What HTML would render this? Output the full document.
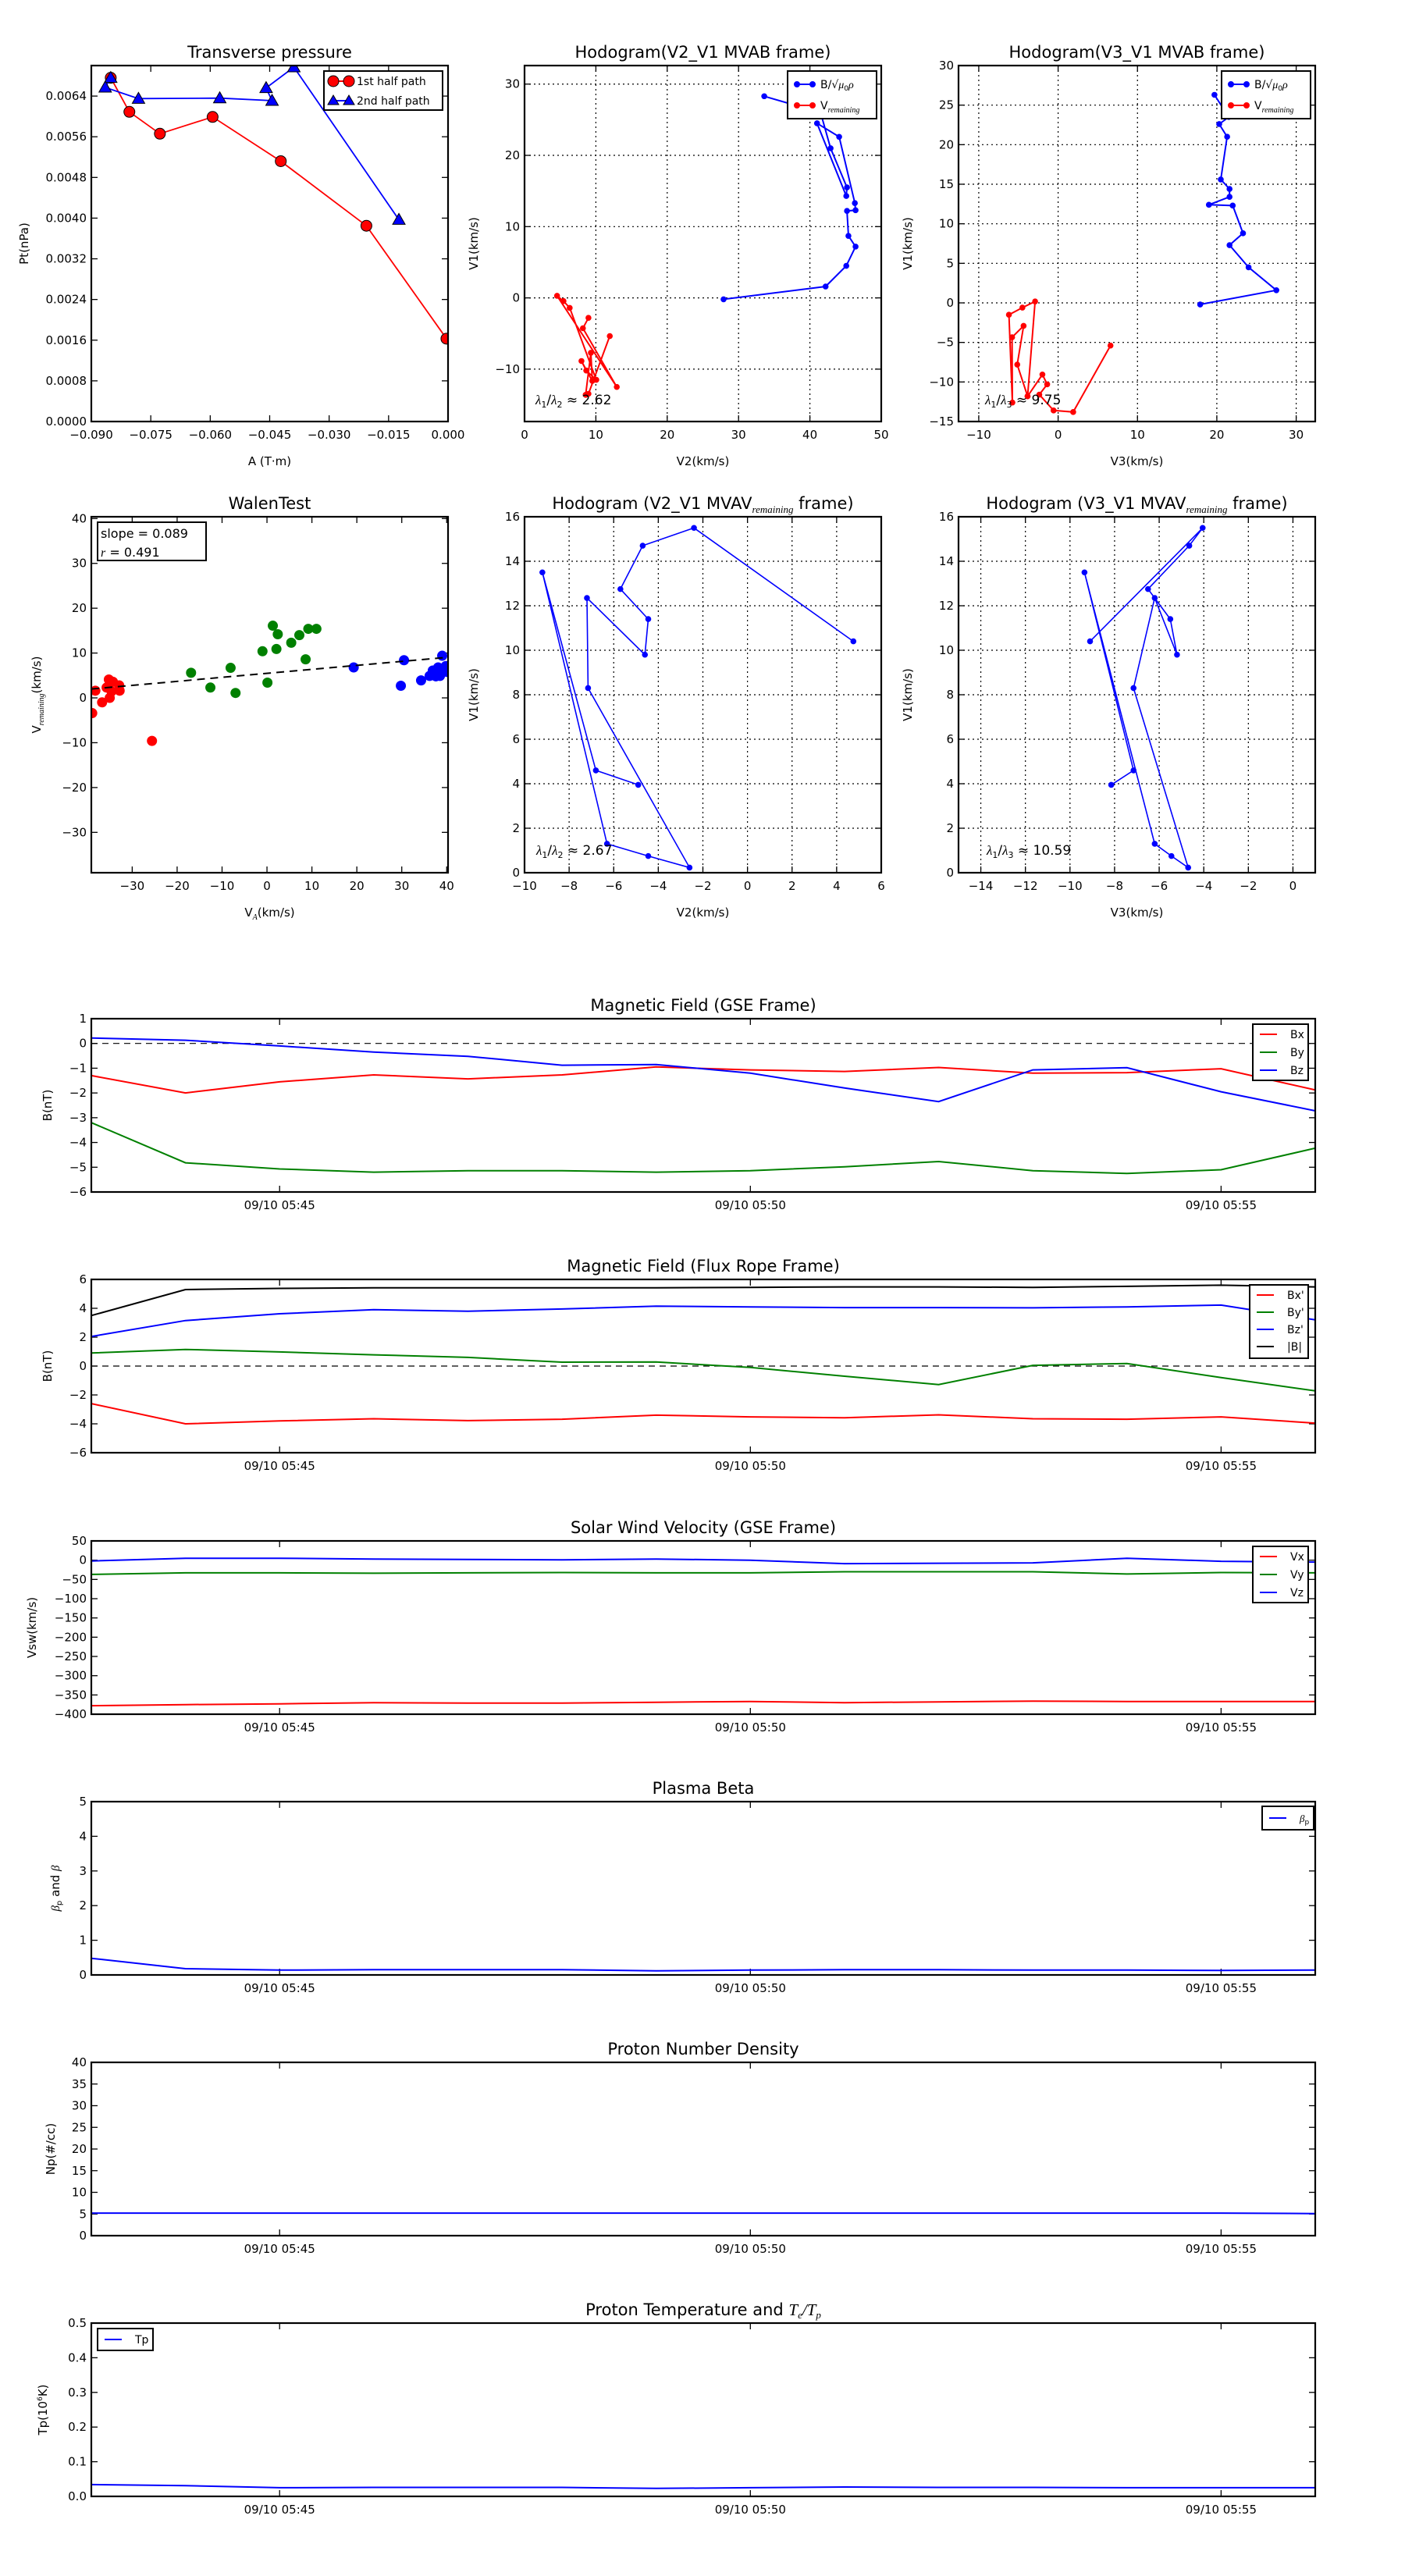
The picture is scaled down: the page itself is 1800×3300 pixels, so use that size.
<!DOCTYPE html>
<html><head><meta charset="utf-8"><title>Flux rope analysis</title>
<style>
html,body{margin:0;padding:0;background:#fff;}
svg{display:block;font-family:"DejaVu Sans","Liberation Sans",sans-serif;}
</style></head>
<body>
<svg id="fig" width="1800" height="3300" viewBox="0 0 1800 3300" xmlns="http://www.w3.org/2000/svg">
<rect width="1800" height="3300" fill="#fff"/>
</svg>
<script>
// ---------- DATA ----------
const tpRedA = [-0.0851,-0.0804,-0.0727,-0.0594,-0.0422,-0.0206,-0.0004];
const tpRedP = [0.00676,0.00609,0.00566,0.00599,0.00512,0.00385,0.00163];
const tpBlueA = [-0.0851,-0.0865,-0.0781,-0.0576,-0.0444,-0.0459,-0.0389,-0.0124];
const tpBlueP = [0.00676,0.00657,0.00635,0.00636,0.00631,0.00656,0.00697,0.00397];

const h2BlueX = [27.9,42.2,45.1,46.4,45.4,45.2,46.4,46.3,44.1,41.0,45.1,45.2,42.9,41.5,33.6];
const h2BlueY = [-0.2,1.6,4.5,7.2,8.7,12.2,12.3,13.3,22.6,24.5,14.3,15.5,21.0,26.0,28.3];
const h2RedX = [8.96,8.18,12.93,4.56,5.46,6.33,10.06,8.65,7.98,9.5,9.3,8.57,8.96,11.95];
const h2RedY = [-2.8,-4.26,-12.5,0.29,-0.45,-1.4,-11.5,-10.2,-8.86,-11.65,-7.7,-13.6,-13.46,-5.36];

const h3BlueX = [17.9,27.5,24.0,21.6,23.3,22.0,19.0,21.6,21.6,20.5,21.3,20.3,21.5,19.7];
const h3BlueY = [-0.2,1.6,4.5,7.3,8.8,12.3,12.4,13.4,14.4,15.6,21.0,22.6,23.5,26.3];
const h3RedX = [6.6,1.9,-0.57,-2.37,-1.38,-1.98,-3.85,-5.15,-4.35,-5.8,-5.76,-6.2,-4.5,-2.9,-3.85];
const h3RedY = [-5.4,-13.8,-13.6,-11.6,-10.3,-9.06,-11.8,-7.8,-2.9,-4.35,-12.6,-1.5,-0.6,0.18,-11.8];

const walenRedX = [-38.9,-38.2,-36.7,-35.7,-35.2,-35.0,-34.3,-32.9,-32.8,-34.6,-25.6];
const walenRedY = [-3.4,1.6,-1.0,2.3,4.1,0.0,3.6,2.8,1.6,1.45,-9.6];
const walenGreenX = [-16.9,-12.6,-8.1,-7.0,-1.0,0.1,1.3,2.1,2.4,5.4,7.2,8.6,9.2,11.0];
const walenGreenY = [5.6,2.3,6.7,1.1,10.4,3.4,16.1,10.9,14.2,12.3,14.0,8.6,15.4,15.4];
const walenBlueX = [19.3,29.8,30.5,34.3,36.2,36.9,37.6,38.1,38.5,39.0,39.3,39.8,40.0];
const walenBlueY = [6.8,2.7,8.4,3.9,4.9,6.1,4.8,6.8,4.9,9.4,6.4,7.1,5.8];
const walenSlope = 0.089;
const walenIntercept = 5.47;

const mvavV1 = [10.4,15.5,14.7,12.75,11.4,9.8,12.35,8.3,0.23,0.75,1.3,13.5,4.6,3.95];
const mvavV2 = [4.75,-2.4,-4.7,-5.7,-4.45,-4.6,-7.2,-7.15,-2.6,-4.45,-6.3,-9.2,-6.8,-4.9];
const mvavV3 = [-9.1,-4.05,-4.65,-6.5,-5.5,-5.2,-6.2,-7.15,-4.7,-5.45,-6.2,-9.35,-7.15,-8.15];

const times = ['05:43','05:44','05:45','05:46','05:47','05:48','05:49','05:50','05:51','05:52','05:53','05:54','05:55','05:56'];
const timeTickLabels = ['09/10 05:45','09/10 05:50','09/10 05:55'];
const timeTickVals = ['05:45','05:50','05:55'];

const gseBx = [-1.3,-2.0,-1.55,-1.27,-1.43,-1.27,-0.95,-1.07,-1.13,-0.97,-1.2,-1.18,-1.02,-1.88];
const gseBy = [-3.2,-4.82,-5.07,-5.2,-5.14,-5.14,-5.2,-5.14,-4.98,-4.77,-5.14,-5.25,-5.1,-4.23];
const gseBz = [0.22,0.13,-0.1,-0.35,-0.52,-0.88,-0.85,-1.2,-1.8,-2.35,-1.07,-0.98,-1.95,-2.72];

const frBx = [-2.6,-4.0,-3.8,-3.65,-3.78,-3.68,-3.4,-3.52,-3.58,-3.38,-3.65,-3.68,-3.52,-3.95];
const frBy = [0.9,1.15,0.98,0.78,0.6,0.27,0.28,-0.1,-0.7,-1.28,0.05,0.18,-0.8,-1.72];
const frBz = [2.05,3.15,3.62,3.9,3.8,3.95,4.15,4.1,4.05,4.05,4.03,4.1,4.22,3.2];
const frBt = [3.5,5.3,5.38,5.42,5.42,5.42,5.42,5.45,5.48,5.48,5.45,5.52,5.6,5.48];

const vx = [-378,-375,-373,-370,-371,-371,-369,-367,-370,-368,-366,-367,-367,-367];
const vy = [-37,-33,-33,-34,-33,-32,-33,-33,-30,-30,-30,-36,-32,-33];
const vz = [-2,5,5,3,2,1,3,0,-9,-8,-7,5,-3,-5];

const betaP = [0.48,0.18,0.14,0.15,0.15,0.15,0.12,0.14,0.15,0.15,0.14,0.14,0.13,0.14];
const np = [5.2,5.2,5.2,5.2,5.2,5.2,5.2,5.2,5.2,5.2,5.2,5.2,5.2,5.1];
const tp = [0.034,0.031,0.025,0.026,0.026,0.026,0.023,0.025,0.027,0.026,0.026,0.025,0.025,0.025];

// ---------- HELPERS ----------
const NS = 'http://www.w3.org/2000/svg';
const svg = document.getElementById('fig');
function mk(tag, attrs, parent){
  const e = document.createElementNS(NS, tag);
  for (const k in attrs) e.setAttribute(k, attrs[k]);
  (parent||svg).appendChild(e);
  return e;
}
function fmtNum(v, dec){ const s = Math.abs(v).toFixed(dec); return (v < -1e-12 ? '\u2212' : '') + s; }
function toMin(t){ const p = t.split(':'); return (+p[0])*60 + (+p[1]); }

function axes(c){
  const g = mk('g', {});
  
  
  const sx = v => c.x0 + (v - c.xmin) / (c.xmax - c.xmin) * c.w;
  const sy = v => c.y0 + c.h - (v - c.ymin) / (c.ymax - c.ymin) * c.h;
  const clipId = 'clip-' + c.name;
  const cp = mk('clipPath', {id: clipId}, g);
  mk('rect', {x: c.x0, y: c.y0, width: c.w, height: c.h}, cp);
  // grid
  if (c.grid){
    c.xticks.forEach(v => {
      const gl = mk('line', {x1: sx(v), x2: sx(v), y1: c.y0, y2: c.y0 + c.h, stroke: '#000', 'stroke-width': 1.2, 'stroke-dasharray': '2,4'}, g);
      
      
    });
    c.yticks.forEach(v => {
      const gl = mk('line', {x1: c.x0, x2: c.x0 + c.w, y1: sy(v), y2: sy(v), stroke: '#000', 'stroke-width': 1.2, 'stroke-dasharray': '2,4'}, g);
      
      
    });
  }
  // ticks + labels
  c.xticks.forEach((v, i) => {
    const x = sx(v);
    mk('line', {x1: x, x2: x, y1: c.y0 + c.h, y2: c.y0 + c.h - 8, stroke: '#000', 'stroke-width': 1.3}, g);
    mk('line', {x1: x, x2: x, y1: c.y0, y2: c.y0 + 8, stroke: '#000', 'stroke-width': 1.3}, g);
    const t = mk('text', {x: x, y: c.y0 + c.h + 22, 'font-size': 15, 'text-anchor': 'middle', fill: '#000'}, g);
    t.textContent = c.xlabels[i];
    
    
  });
  c.yticks.forEach((v, i) => {
    const y = sy(v);
    mk('line', {x1: c.x0, x2: c.x0 + 8, y1: y, y2: y, stroke: '#000', 'stroke-width': 1.3}, g);
    mk('line', {x1: c.x0 + c.w, x2: c.x0 + c.w - 8, y1: y, y2: y, stroke: '#000', 'stroke-width': 1.3}, g);
    const t = mk('text', {x: c.x0 - 6, y: y + 5, 'font-size': 15, 'text-anchor': 'end', fill: '#000'}, g);
    t.textContent = c.ylabels[i];
    
    
  });
  const plot = mk('g', {'clip-path': 'url(#' + clipId + ')'}, g);
  
  
  const frame = mk('rect', {x: c.x0, y: c.y0, width: c.w, height: c.h, fill: 'none', stroke: '#000', 'stroke-width': 2.2}, g);
  
  
  // title
  const tt = mk('text', {x: c.x0 + c.w / 2, y: c.y0 - 10, 'font-size': 21, 'text-anchor': 'middle', fill: '#000'}, g);
  tt.innerHTML = c.title;
  
  
  if (c.xlabel){
    const xl = mk('text', {x: c.x0 + c.w / 2, y: c.y0 + c.h + 56, 'font-size': 15, 'text-anchor': 'middle', fill: '#000'}, g);
    xl.innerHTML = c.xlabel;
    
    
  }
  if (c.ylabel){
    const cy = c.y0 + c.h / 2;
    const yl = mk('text', {x: c.ylx, y: cy, 'font-size': 15, 'text-anchor': 'middle', fill: '#000', transform: 'rotate(-90 ' + c.ylx + ' ' + cy + ')'}, g);
    yl.innerHTML = c.ylabel;
    
    
  }
  return {sx, sy, g, plot};
}
function series(ax, xs, ys, color, name, opts){
  opts = opts || {};
  const pts = xs.map((x, i) => ax.sx(x).toFixed(1) + ',' + ax.sy(ys[i]).toFixed(1)).join(' ');
  if (!opts.noLine){
    const pl = mk('polyline', {points: pts, fill: 'none', stroke: color, 'stroke-width': opts.lw || 2, 'stroke-dasharray': opts.dash || 'none'}, ax.plot);
    
    
  }
  if (opts.marker){
    xs.forEach((x, i) => {
      const cx = ax.sx(x), cy = ax.sy(ys[i]);
      let m;
      if (opts.marker === 'tri'){
        const s = opts.ms;
        m = mk('polygon', {points: cx + ',' + (cy - s) + ' ' + (cx - s) + ',' + (cy + s * 0.75) + ' ' + (cx + s) + ',' + (cy + s * 0.75), fill: color, stroke: '#000', 'stroke-width': 1}, ax.plot);
      } else {
        m = mk('circle', {cx: cx, cy: cy, r: opts.ms, fill: color, stroke: opts.mstroke || color, 'stroke-width': 1}, ax.plot);
      }
      
      
    });
  }
}
function legend(x, y, w, h, entries, name, opt){
  opt = opt || {};
  const g = mk('g', {});
  
  
  mk('rect', {x: x, y: y, width: w, height: h, fill: '#fff', stroke: '#000', 'stroke-width': 2}, g);
  const step = opt.step || 23;
  entries.forEach((e, i) => {
    const ly = y + (opt.top || 14) + i * step;
    const lx = x + (opt.lx || 10), llen = opt.llen || 24;
    mk('line', {x1: lx, x2: lx + llen, y1: ly, y2: ly, stroke: e.c, 'stroke-width': 2}, g);
    if (e.m === 'o'){ mk('circle', {cx: lx, cy: ly, r: e.ms, fill: e.c, stroke: e.st || e.c}, g); mk('circle', {cx: lx + llen, cy: ly, r: e.ms, fill: e.c, stroke: e.st || e.c}, g); }
    if (e.m === 'tri'){ [lx, lx + llen].forEach(px => mk('polygon', {points: px + ',' + (ly - 7) + ' ' + (px - 7) + ',' + (ly + 5) + ' ' + (px + 7) + ',' + (ly + 5), fill: e.c, stroke: '#000'}, g)); }
    const t = mk('text', {x: opt.tx ? x + opt.tx : lx + llen + 10, y: ly + 5, 'font-size': opt.fs || 14, fill: '#000'}, g);
    t.innerHTML = e.label;
    
    
  });
}
function range(a, b, s){ const r = []; for (let v = a; v <= b + 1e-9; v += s) r.push(+v.toFixed(6)); return r; }

const SUBREM = '<tspan font-size="10" font-style="italic" font-family="Liberation Serif,serif" dy="4">remaining</tspan>';
const BSQ = 'B/\u221A<tspan font-style="italic" font-family="Liberation Serif,serif">\u03BC</tspan><tspan font-size="9" dy="3">0</tspan><tspan dy="-3" font-style="italic" font-family="Liberation Serif,serif">\u03C1</tspan>';

// ---------- TOP ROW ----------
const C1 = 117, C2 = 672, C3 = 1228, CW = 457, R1 = 84, R2 = 662, RH = 456;

let t1 = range(-0.09, 0, 0.015), t2 = range(0, 0.0064, 0.0008);
const axTP = axes({name: 'transverse-pressure-chart', x0: C1, y0: R1, w: CW, h: RH, xmin: -0.09, xmax: 0, ymin: 0, ymax: 0.0070,
  xticks: t1, xlabels: t1.map(v => fmtNum(v, 3)), yticks: t2, ylabels: t2.map(v => v.toFixed(4)),
  title: 'Transverse pressure', xlabel: 'A (T\u00B7m)', ylabel: 'Pt(nPa)', ylx: 36});
series(axTP, tpRedA, tpRedP, 'red', 'first-half-path', {marker: 'o', ms: 7, mstroke: '#000', lw: 1.8});
series(axTP, tpBlueA, tpBlueP, 'blue', 'second-half-path', {marker: 'tri', ms: 8, lw: 1.8});
legend(415, 91, 152, 50, [{c: 'red', m: 'o', ms: 7, st: '#000', label: '1st half path'}, {c: 'blue', m: 'tri', label: '2nd half path'}], 'pressure-legend', {top: 13, step: 25, lx: 12, llen: 20, fs: 14});

t1 = range(0, 50, 10); t2 = range(-10, 30, 10);
const axH2 = axes({name: 'hodogram-v2-v1-mvab', x0: C2, y0: R1, w: CW, h: RH, xmin: 0, xmax: 50, ymin: -17.35, ymax: 32.6, grid: true,
  xticks: t1, xlabels: t1.map(v => fmtNum(v, 0)), yticks: t2, ylabels: t2.map(v => fmtNum(v, 0)),
  title: 'Hodogram(V2_V1 MVAB frame)', xlabel: 'V2(km/s)', ylabel: 'V1(km/s)', ylx: 612});
series(axH2, h2RedX, h2RedY, 'red', 'v-remaining', {marker: 'o', ms: 3.3});
series(axH2, h2BlueX, h2BlueY, 'blue', 'b-alfven', {marker: 'o', ms: 3.3});
legend(1009, 91, 114, 61, [{c: 'blue', m: 'o', ms: 3.5, label: BSQ}, {c: 'red', m: 'o', ms: 3.5, label: 'V' + SUBREM}], 'hodogram-legend-1', {top: 17, step: 27, lx: 12, llen: 20, fs: 14});
let lt = mk('text', {x: 686, y: 518, 'font-size': 17, fill: '#000'});
lt.innerHTML = '<tspan font-style="italic" font-family="Liberation Serif,serif">\u03BB</tspan><tspan font-size="11" dy="4">1</tspan><tspan dy="-4">/</tspan><tspan font-style="italic" font-family="Liberation Serif,serif">\u03BB</tspan><tspan font-size="11" dy="4">2</tspan><tspan dy="-4"> \u2248 2.62</tspan>';



t1 = range(-10, 30, 10); t2 = range(-15, 30, 5);
const axH3 = axes({name: 'hodogram-v3-v1-mvab', x0: C3, y0: R1, w: CW, h: RH, xmin: -12.55, xmax: 32.4, ymin: -15, ymax: 30, grid: true,
  xticks: t1, xlabels: t1.map(v => fmtNum(v, 0)), yticks: t2, ylabels: t2.map(v => fmtNum(v, 0)),
  title: 'Hodogram(V3_V1 MVAB frame)', xlabel: 'V3(km/s)', ylabel: 'V1(km/s)', ylx: 1168});
series(axH3, h3RedX, h3RedY, 'red', 'v-remaining', {marker: 'o', ms: 3.3});
series(axH3, h3BlueX, h3BlueY, 'blue', 'b-alfven', {marker: 'o', ms: 3.3});
legend(1565, 91, 114, 61, [{c: 'blue', m: 'o', ms: 3.5, label: BSQ}, {c: 'red', m: 'o', ms: 3.5, label: 'V' + SUBREM}], 'hodogram-legend-2', {top: 17, step: 27, lx: 12, llen: 20, fs: 14});
lt = mk('text', {x: 1262, y: 518, 'font-size': 17, fill: '#000'});
lt.innerHTML = '<tspan font-style="italic" font-family="Liberation Serif,serif">\u03BB</tspan><tspan font-size="11" dy="4">1</tspan><tspan dy="-4">/</tspan><tspan font-style="italic" font-family="Liberation Serif,serif">\u03BB</tspan><tspan font-size="11" dy="4">3</tspan><tspan dy="-4"> \u2248 9.75</tspan>';



// ---------- SECOND ROW ----------
t1 = range(-30, 40, 10); t2 = range(-30, 40, 10);
const axW = axes({name: 'walen-test-chart', x0: C1, y0: R2, w: CW, h: RH, xmin: -39.1, xmax: 40.3, ymin: -39, ymax: 40.4,
  xticks: t1, xlabels: t1.map(v => fmtNum(v, 0)), yticks: t2, ylabels: t2.map(v => fmtNum(v, 0)),
  title: 'WalenTest', xlabel: 'V<tspan font-size="10" font-style="italic" font-family="Liberation Serif,serif" dy="4">A</tspan><tspan dy="-4">(km/s)</tspan>',
  ylabel: 'V' + SUBREM + '<tspan dy="-4">(km/s)</tspan>', ylx: 52});
series(axW, walenRedX, walenRedY, 'red', 'walen-red', {noLine: true, marker: 'o', ms: 6});
series(axW, walenGreenX, walenGreenY, 'green', 'walen-green', {noLine: true, marker: 'o', ms: 6});
series(axW, walenBlueX, walenBlueY, 'blue', 'walen-blue', {noLine: true, marker: 'o', ms: 6});
const fitX = [-39.1, 40.3];
series(axW, fitX, fitX.map(x => walenIntercept + walenSlope * x), '#000', 'walen-fit', {dash: '10,7', lw: 2});
mk('rect', {x: 125, y: 669, width: 139, height: 49, fill: '#fff', stroke: '#000', 'stroke-width': 2,  });
lt = mk('text', {x: 129, y: 689, 'font-size': 16, fill: '#000'});
lt.textContent = 'slope = 0.089';


lt = mk('text', {x: 129, y: 713, 'font-size': 16, fill: '#000'});
lt.innerHTML = '<tspan font-style="italic" font-family="Liberation Serif,serif">r</tspan> = 0.491';



t1 = range(-10, 6, 2); t2 = range(0, 16, 2);
const axM2 = axes({name: 'hodogram-v2-v1-mvav', x0: C2, y0: R2, w: CW, h: RH, xmin: -10, xmax: 6, ymin: 0, ymax: 16, grid: true,
  xticks: t1, xlabels: t1.map(v => fmtNum(v, 0)), yticks: t2, ylabels: t2.map(v => fmtNum(v, 0)),
  title: 'Hodogram (V2_V1 MVAV<tspan font-size="13" font-style="italic" font-family="Liberation Serif,serif" dy="5">remaining</tspan><tspan dy="-5"> frame)</tspan>', xlabel: 'V2(km/s)', ylabel: 'V1(km/s)', ylx: 612});
series(axM2, mvavV2, mvavV1, 'blue', 'mvav-v2', {marker: 'o', ms: 3.3, lw: 1.6});
lt = mk('text', {x: 687, y: 1095, 'font-size': 17, fill: '#000'});
lt.innerHTML = '<tspan font-style="italic" font-family="Liberation Serif,serif">\u03BB</tspan><tspan font-size="11" dy="4">1</tspan><tspan dy="-4">/</tspan><tspan font-style="italic" font-family="Liberation Serif,serif">\u03BB</tspan><tspan font-size="11" dy="4">2</tspan><tspan dy="-4"> \u2248 2.67</tspan>';



t1 = range(-14, 0, 2);
const axM3 = axes({name: 'hodogram-v3-v1-mvav', x0: C3, y0: R2, w: CW, h: RH, xmin: -15, xmax: 1, ymin: 0, ymax: 16, grid: true,
  xticks: t1, xlabels: t1.map(v => fmtNum(v, 0)), yticks: t2, ylabels: t2.map(v => fmtNum(v, 0)),
  title: 'Hodogram (V3_V1 MVAV<tspan font-size="13" font-style="italic" font-family="Liberation Serif,serif" dy="5">remaining</tspan><tspan dy="-5"> frame)</tspan>', xlabel: 'V3(km/s)', ylabel: 'V1(km/s)', ylx: 1168});
series(axM3, mvavV3, mvavV1, 'blue', 'mvav-v3', {marker: 'o', ms: 3.3, lw: 1.6});
lt = mk('text', {x: 1264, y: 1095, 'font-size': 17, fill: '#000'});
lt.innerHTML = '<tspan font-style="italic" font-family="Liberation Serif,serif">\u03BB</tspan><tspan font-size="11" dy="4">1</tspan><tspan dy="-4">/</tspan><tspan font-style="italic" font-family="Liberation Serif,serif">\u03BB</tspan><tspan font-size="11" dy="4">3</tspan><tspan dy="-4"> \u2248 10.59</tspan>';



// ---------- TIME SERIES ----------
const TX = 117, TW = 1568, TH = 222;
const tmin = toMin(times[0]), tmax = toMin(times[times.length - 1]);
const tX = times.map(toMin);
const tTicks = timeTickVals.map(toMin);
function tsAxes(name, y0, ymin, ymax, yt, ydec, title, ylabel, ylx){
  return axes({name: name, x0: TX, y0: y0, w: TW, h: TH, xmin: tmin, xmax: tmax, ymin: ymin, ymax: ymax,
    xticks: tTicks, xlabels: timeTickLabels, yticks: yt, ylabels: yt.map(v => fmtNum(v, ydec)),
    title: title, ylabel: ylabel, ylx: ylx});
}
let ax = tsAxes('magnetic-field-gse-chart', 1305, -6, 1, range(-6, 1, 1), 0, 'Magnetic Field (GSE Frame)', 'B(nT)', 66);
series(ax, [tmin, tmax], [0, 0], '#000', 'zero-reference', {dash: '8,6', lw: 1.2});
series(ax, tX, gseBx, 'red', 'bx');
series(ax, tX, gseBy, 'green', 'by');
series(ax, tX, gseBz, 'blue', 'bz');
legend(1605, 1312, 71, 72, [{c: 'red', label: 'Bx'}, {c: 'green', label: 'By'}, {c: 'blue', label: 'Bz'}], 'gse-legend', {top: 13, step: 23, lx: 9, llen: 22, tx: 48, fs: 14});

ax = tsAxes('magnetic-field-flux-rope-chart', 1639, -6, 6, range(-6, 6, 2), 0, 'Magnetic Field (Flux Rope Frame)', 'B(nT)', 66);
series(ax, [tmin, tmax], [0, 0], '#000', 'zero-reference', {dash: '8,6', lw: 1.2});
series(ax, tX, frBx, 'red', 'bx-prime');
series(ax, tX, frBy, 'green', 'by-prime');
series(ax, tX, frBz, 'blue', 'bz-prime');
series(ax, tX, frBt, '#000', 'b-magnitude');
legend(1601, 1646, 75, 94, [{c: 'red', label: "Bx'"}, {c: 'green', label: "By'"}, {c: 'blue', label: "Bz'"}, {c: '#000', label: '|B|'}], 'flux-rope-legend', {top: 13, step: 22, lx: 9, llen: 22, tx: 48, fs: 14});

ax = tsAxes('solar-wind-velocity-chart', 1974, -400, 50, range(-400, 50, 50), 0, 'Solar Wind Velocity (GSE Frame)', 'Vsw(km/s)', 46);
series(ax, tX, vx, 'red', 'vx');
series(ax, tX, vy, 'green', 'vy');
series(ax, tX, vz, 'blue', 'vz');
legend(1605, 1981, 71, 72, [{c: 'red', label: 'Vx'}, {c: 'green', label: 'Vy'}, {c: 'blue', label: 'Vz'}], 'velocity-legend', {top: 13, step: 23, lx: 9, llen: 22, tx: 48, fs: 14});

ax = tsAxes('plasma-beta-chart', 2308, 0, 5, range(0, 5, 1), 0, 'Plasma Beta', '<tspan font-style="italic" font-family="Liberation Serif,serif">\u03B2</tspan><tspan font-size="10" dy="3">p</tspan><tspan dy="-3"> and </tspan><tspan font-style="italic" font-family="Liberation Serif,serif">\u03B2</tspan>', 76);
series(ax, tX, betaP, 'blue', 'beta-p');
legend(1617, 2314, 66, 30, [{c: 'blue', label: '<tspan font-style="italic" font-family="Liberation Serif,serif">\u03B2</tspan><tspan font-size="9" dy="3">p</tspan>'}], 'beta-legend', {top: 15, lx: 9, llen: 22, tx: 48, fs: 13});

ax = tsAxes('proton-density-chart', 2642, 0, 40, range(0, 40, 5), 0, 'Proton Number Density', 'Np(#/cc)', 70);
series(ax, tX, np, 'blue', 'np');

ax = tsAxes('proton-temperature-chart', 2976, 0, 0.5, range(0, 0.5, 0.1), 1, 'Proton Temperature and <tspan font-style="italic" font-family="Liberation Serif,serif">T</tspan><tspan font-size="13" font-style="italic" font-family="Liberation Serif,serif" dy="4">e</tspan><tspan dy="-4" font-style="italic" font-family="Liberation Serif,serif">/T</tspan><tspan font-size="13" font-style="italic" font-family="Liberation Serif,serif" dy="4">p</tspan>', 'Tp(10<tspan font-size="9" dy="-6">6</tspan><tspan dy="6">K)</tspan>', 60);
series(ax, tX, tp, 'blue', 'tp');
legend(125, 2983, 71, 28, [{c: 'blue', label: 'Tp'}], 'tp-legend', {top: 14, lx: 9, llen: 22, tx: 48, fs: 14});
</script>
</body></html>
